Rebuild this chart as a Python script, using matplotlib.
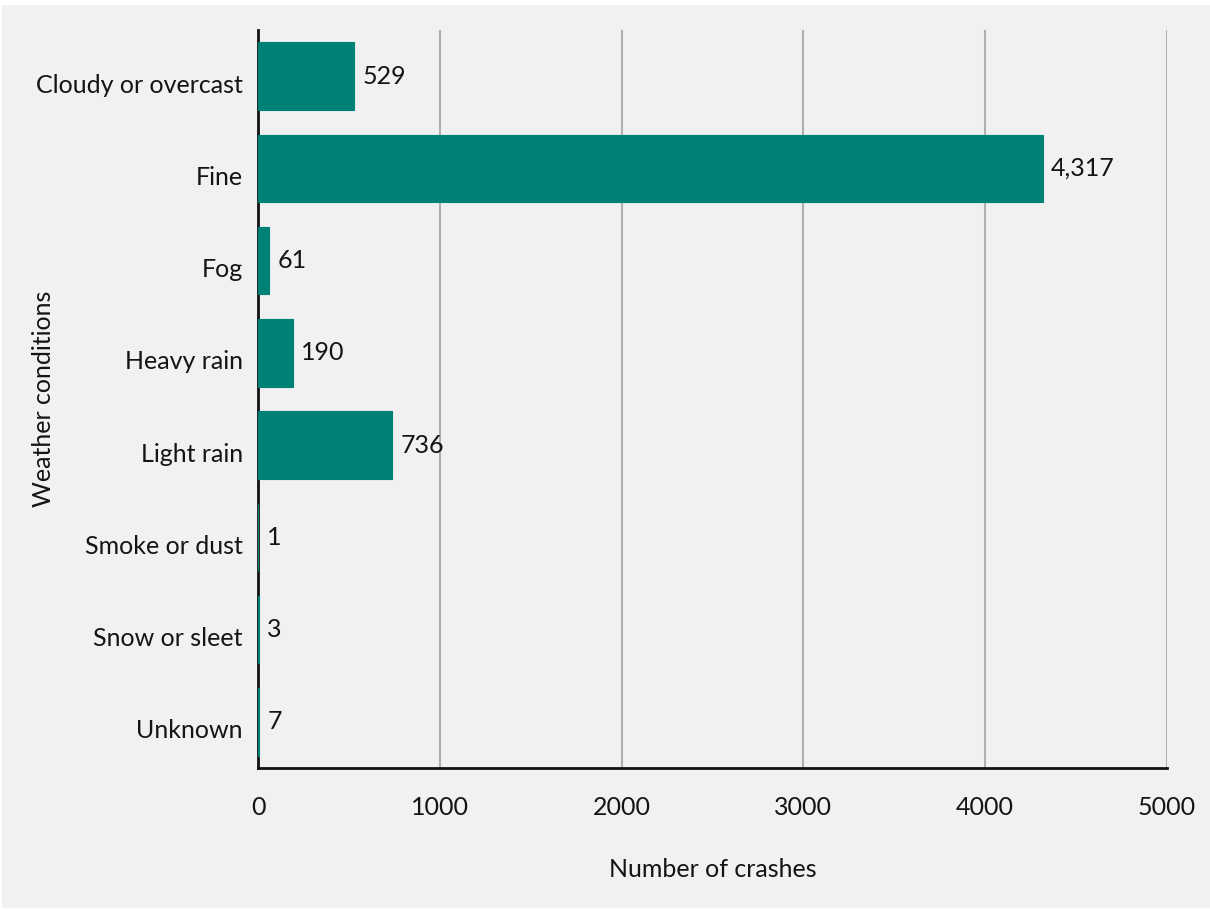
import matplotlib
matplotlib.use("Agg")
import matplotlib.pyplot as plt
from matplotlib.patches import Rectangle
from matplotlib.transforms import ScaledTranslation

categories = ["Cloudy or overcast", "Fine", "Fog", "Heavy rain", "Light rain",
              "Smoke or dust", "Snow or sleet", "Unknown"]
values = [529, 4317, 61, 190, 736, 1, 3, 7]
value_labels = ["529", "4,317", "61", "190", "736", "1", "3", "7"]
xticks = [0, 1000, 2000, 3000, 4000, 5000]

plt.rcParams['font.family'] = ['Lato', 'DejaVu Sans']
FS = 18
TXT = "#141414"

W, H = 1210, 910
fig = plt.figure(figsize=(W / 100, H / 100), dpi=100, facecolor="white")
bg = "#f1f1f1"
fig.patches.append(Rectangle((2 / W, 2 / H), 1 - 2 / W, 1 - 7 / H,
                             transform=fig.transFigure, facecolor=bg,
                             edgecolor="none", zorder=-10))

ax = fig.add_axes([258 / W, 1 - 768 / H, (1167 - 258) / W, (768 - 30) / H])
ax.set_zorder(1)
ax.set_facecolor(bg)

ypos = list(range(len(categories)))
ax.barh(ypos, values, height=0.73, color="#008176", zorder=2,
        edgecolor="#008176", linewidth=0.8)
ax.set_ylim(len(categories) - 0.5, -0.5)
ax.set_xlim(0, 5000)
ax.set_xticks(xticks)
ax.set_xticklabels([str(t) for t in xticks], fontsize=FS)
ax.set_yticks(ypos)
ax.set_yticklabels(categories, fontsize=FS)
ax.tick_params(axis="both", length=0, colors=TXT)
ax.tick_params(axis="x", pad=20)
ax.tick_params(axis="y", pad=11)

shift = ScaledTranslation(0, -7 / 100, fig.dpi_scale_trans)
for lab in ax.get_yticklabels():
    lab.set_transform(lab.get_transform() + shift)

ax.grid(axis="x", color="#b0b0b0", linewidth=1.5, zorder=1)
ax.grid(axis="y", visible=False)
ax.set_axisbelow(True)
for s in ["top", "right"]:
    ax.spines[s].set_visible(False)
for s in ["left", "bottom"]:
    ax.spines[s].set_color("#111111")
    ax.spines[s].set_linewidth(2)
ax.spines["left"].set_zorder(1.9)
ax.spines["bottom"].set_zorder(3)

for y, v, lab in zip(ypos, values, value_labels):
    ax.annotate(lab, xy=(v, y), xytext=(6, 0), textcoords="offset points",
                va="center", ha="left", fontsize=FS, color=TXT)

ax.set_xlabel("Number of crashes", fontsize=FS, labelpad=28, color=TXT)
ax.set_ylabel("Weather conditions", fontsize=FS, color=TXT)
ax.yaxis.set_label_coords((55 - 258) / 909, 0.50)

fig.savefig("out.png", dpi=100, facecolor="white")
